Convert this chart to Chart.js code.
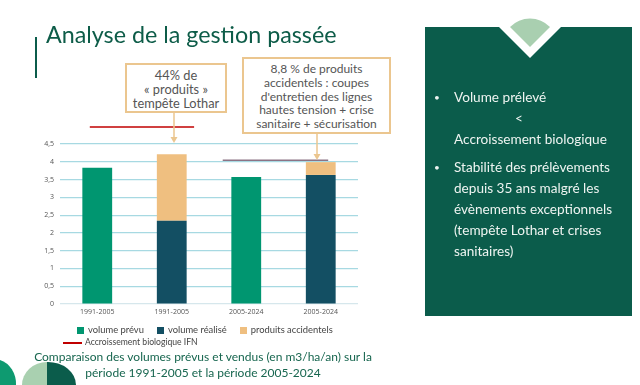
<!DOCTYPE html>
<html>
<head>
<meta charset="utf-8">
<script src="https://cdn.jsdelivr.net/npm/chart.js@4.4.1/dist/chart.umd.min.js"></script>
<style>
    body { margin: 0; width: 640px; height: 385px; overflow: hidden; background: #fff; position: relative; font-family: Lato, 'Open Sans', sans-serif; }
    #chart { position: absolute; left: 0; top: 0; }
    #deco { position: absolute; left: 0; top: 0; }
    .title { position: absolute; left: 46px; top: 20px; font-size: 23.3px; color: #0d5c48; white-space: nowrap; }
    .box { position: absolute; border: 2px solid #ebc68f; background: #fff; color: #555; text-align: center; box-sizing: border-box; white-space: nowrap; }
    #box1 { left: 125px; top: 63px; width: 102px; height: 50px; font-size: 12.8px; line-height: 14px; padding-top: 3px; }
    #box2 { left: 242px; top: 57px; width: 149px; height: 77px; font-size: 12px; line-height: 13.8px; padding-top: 3px; }
    .panel { position: absolute; left: 425px; top: 27px; width: 207px; height: 289px; background: #0b5c4b; }
    .bullets { position: absolute; left: 425px; top: 87px; width: 207px; color: #eef4f1; font-size: 13.6px; line-height: 21px; }
    .item { position: relative; padding-left: 29px; margin-bottom: 7px; }
    .item::before { content: '•'; position: absolute; left: 9px; font-size: 10px; }
    .lt { padding-left: 61px; }
    .legend { position: absolute; color: #444; white-space: nowrap; }
    #legend1 { left: 77px; top: 324px; font-size: 9.4px; }
    #legend1 span.item2 { display: inline-block; margin-right: 13px; }
    #legend1 i { display: inline-block; width: 7px; height: 7px; margin-right: 4px; vertical-align: -0.5px; }
    #legend2 { left: 63px; top: 337px; font-size: 8.6px; }
    #legend2 i { display: inline-block; width: 19px; height: 2px; vertical-align: middle; margin-right: 3px; }
    .caption { position: absolute; left: 0; top: 349px; width: 406px; text-align: center; color: #17664f; font-size: 12px; line-height: 15.5px; }
</style>
</head>
<body>
<canvas id="chart" width="640" height="385"></canvas>
<svg id="deco" width="640" height="385">
    <rect x="35" y="37" width="2" height="41" fill="#0b5c4b"/>
    <!-- arrows from boxes -->
    <line x1="174" y1="113" x2="174" y2="139" stroke="#ebc68f" stroke-width="1.5"/>
    <path d="M170.5 137 L174 143 L177.5 137 Z" fill="#ebc68f"/>
    <line x1="317" y1="134" x2="317" y2="156" stroke="#ebc68f" stroke-width="1.5"/>
    <path d="M313.5 154 L317 160 L320.5 154 Z" fill="#ebc68f"/>
    <!-- bottom-left decoration -->
    <path d="M0 360 A22 25 0 0 1 16 385 L0 385 Z" fill="#0e9a70"/>
    <path d="M47 362 L47 385 L22 385 A25 23 0 0 1 47 362 Z" fill="#a9d0b0"/>
    <path d="M47 362 A28 23 0 0 1 76 385 L47 385 Z" fill="#0b5c4b"/>
</svg>
<div class="panel"></div>
<svg style="position:absolute;left:0;top:0" width="640" height="385">
    <path d="M499 27 L530 58 L561 27 Z" fill="#fff"/>
    <path d="M530 47 L510 27 A28 28 0 0 1 550 27 Z" fill="#a9cfb0"/>
</svg>
<div class="title">Analyse de la gestion passée</div>
<div class="box" id="box1">44% de<br>« produits »<br>tempête Lothar</div>
<div class="box" id="box2">8,8 % de produits<br>accidentels : coupes<br>d'entretien des lignes<br>hautes tension + crise<br>sanitaire + sécurisation</div>
<div class="bullets">
    <div class="item">Volume prélevé<br><span class="lt">&lt;</span><br>Accroissement biologique</div>
    <div class="item">Stabilité des prélèvements<br>depuis 35 ans malgré les<br>évènements exceptionnels<br>(tempête Lothar et crises<br>sanitaires)</div>
</div>
<div class="legend" id="legend1"></div>
<div class="legend" id="legend2"></div>
<div class="caption">Comparaison des volumes prévus et vendus (en m3/ha/an) sur la<br>période 1991-2005 et la période 2005-2024</div>
<script>
// data
const periods = ['1991-2005', '1991-2005', '2005-2024', '2005-2024'];
const volumePrevu = [3.83, null, 3.57, null];
const volumeRealise = [null, 2.34, null, 3.63];
const produitsAccidentels = [null, 1.87, null, 0.36];
// growth reference lines (x in category units, -0.5 = left edge of plot)
const accroissement1X = [-0.5, 1.25];
const accroissement1Y = [4.98, 4.98];
const accroissement2X = [1.73, 3.5];
const accroissement2Y = [4.04, 4.04];

const colors = { prevu: '#009670', realise: '#134f63', accid: '#efbf80', ifn: '#c00000', ifn2: '#8c7384' };

function toPoints(xs, ys) {
    return xs.map((x, i) => ({ x: x, y: ys[i] }));
}

const barOpts = { stack: 'bars', grouped: false, barPercentage: 0.4, categoryPercentage: 1 };

const ctx = document.getElementById('chart').getContext('2d');
const chart = new Chart(ctx, {
    type: 'bar',
    data: {
        labels: periods,
        datasets: [
            Object.assign({ label: 'volume prévu', data: volumePrevu, backgroundColor: colors.prevu }, barOpts),
            Object.assign({ label: 'volume réalisé', data: volumeRealise, backgroundColor: colors.realise }, barOpts),
            Object.assign({ label: 'produits accidentels', data: produitsAccidentels, backgroundColor: colors.accid }, barOpts),
            {
                type: 'line', label: 'Accroissement biologique IFN', xAxisID: 'x2', stack: 'ifn1',
                data: toPoints(accroissement1X, accroissement1Y),
                borderColor: colors.ifn, borderWidth: 1.5, pointRadius: 0, clip: false
            },
            {
                type: 'line', label: 'IFN 2005-2024', xAxisID: 'x2', stack: 'ifn2',
                data: toPoints(accroissement2X, accroissement2Y),
                borderColor: colors.ifn2, borderWidth: 1.5, pointRadius: 0, clip: false
            }
        ]
    },
    options: {
        responsive: false,
        animation: false,
        layout: { padding: { left: 20, right: 282, top: 144, bottom: 61 } },
        plugins: { legend: { display: false }, tooltip: { enabled: false } },
        scales: {
            x: {
                stacked: true,
                grid: { display: false, drawTicks: false },
                border: { display: false },
                ticks: { color: '#555', font: { family: 'Open Sans', size: 7 }, padding: 4 },
                afterFit: s => { s.height = 20; }
            },
            x2: { type: 'linear', min: -0.5, max: 3.5, display: false },
            y: {
                stacked: true,
                min: 0,
                max: 4.5,
                ticks: {
                    stepSize: 0.5,
                    color: '#555',
                    font: { family: 'Open Sans', size: 7 },
                    padding: 6,
                    callback: v => String(v).replace('.', ',')
                },
                grid: {
                    color: c => c.tick.value === 0 ? '#d6e7ec' : '#a7d9e2',
                    lineWidth: 1.2,
                    drawTicks: false
                },
                border: { display: false },
                afterFit: s => { s.width = 40; }
            }
        }
    }
});

// legend rows built from the datasets
const legend1 = document.getElementById('legend1');
chart.data.datasets.slice(0, 3).forEach(ds => {
    const item = document.createElement('span');
    item.className = 'item2';
    item.innerHTML = '<i style="background:' + ds.backgroundColor + '"></i>' + ds.label;
    legend1.appendChild(item);
});
const ifn = chart.data.datasets[3];
document.getElementById('legend2').innerHTML = '<i style="background:' + ifn.borderColor + '"></i>' + ifn.label;
</script>
</body>
</html>
